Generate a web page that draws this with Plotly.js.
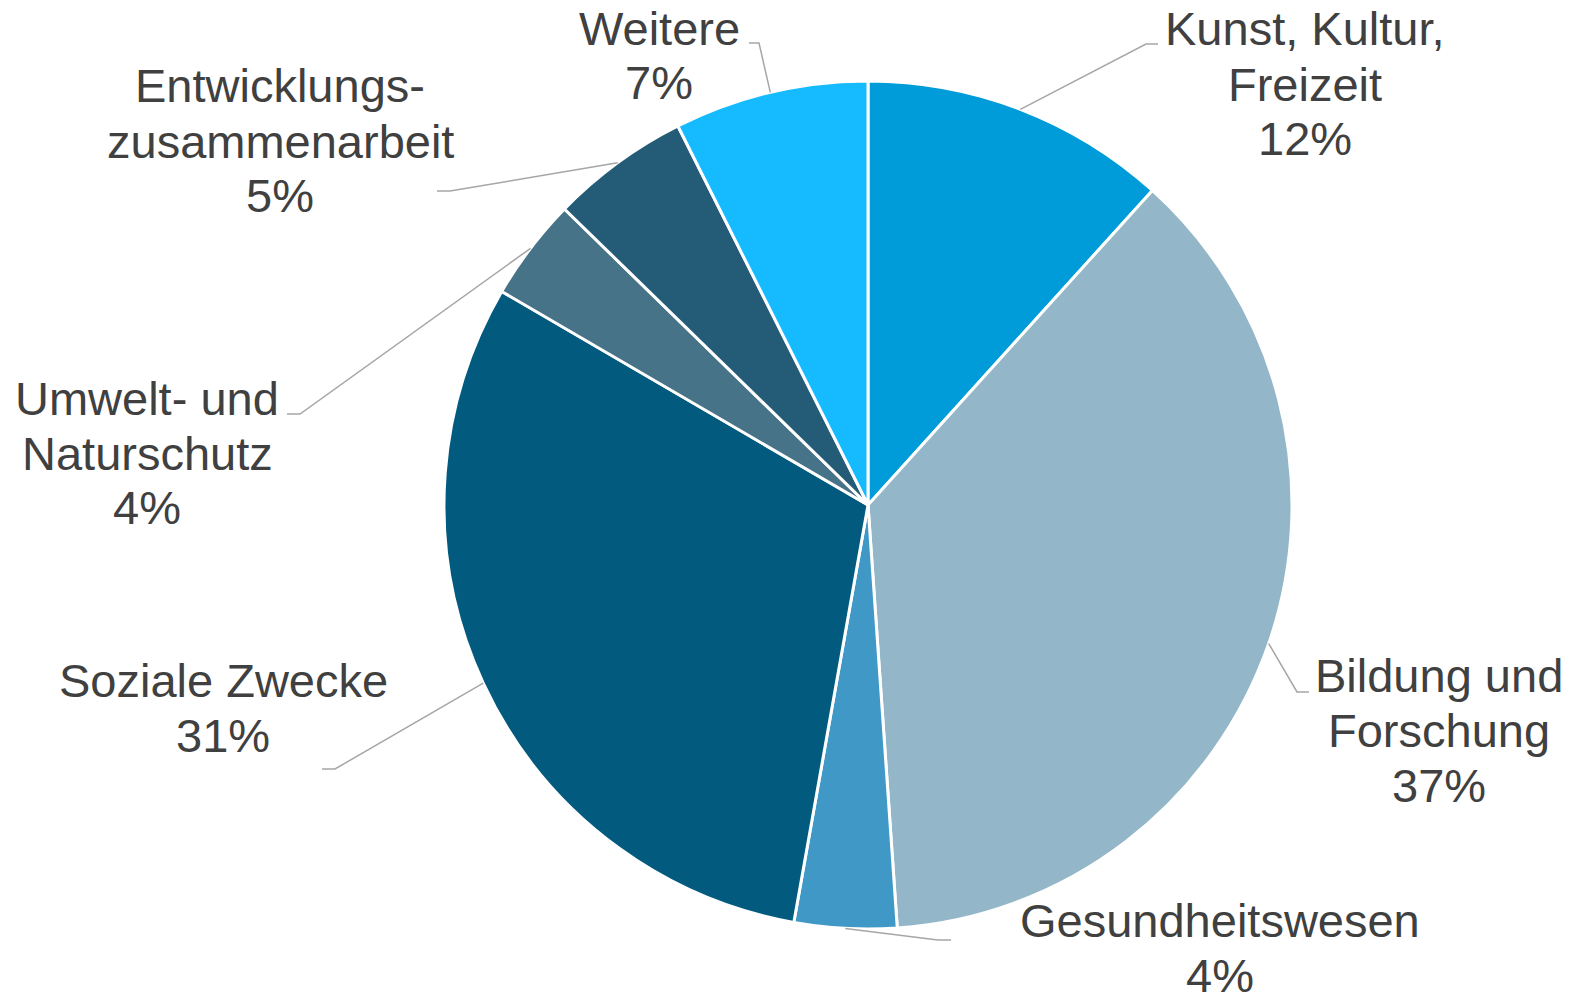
<!DOCTYPE html>
<html><head><meta charset="utf-8">
<script src="https://cdn.plot.ly/plotly-3.0.1.min.js"></script>
<style>html,body{margin:0;padding:0;background:#fff;}#chart{width:1577px;height:997px;}</style>
</head><body><div id="chart"></div>
<script>
// ---- data ----
const categories = ["Kunst, Kultur, Freizeit", "Bildung und Forschung", "Gesundheitswesen", "Soziale Zwecke", "Umwelt- und Naturschutz", "Entwicklungszusammenarbeit", "Weitere"];
const labelLines = [["Kunst, Kultur,", "Freizeit"], ["Bildung und", "Forschung"], ["Gesundheitswesen"], ["Soziale Zwecke"], ["Umwelt- und", "Naturschutz"], ["Entwicklungs-", "zusammenarbeit"], ["Weitere"]];
const shares = [11.7, 37.2, 3.9, 30.6, 3.9, 5.3, 7.4];
const colors = ["#009bd9", "#93b6c8", "#3f98c5", "#025b7e", "#467387", "#245c77", "#16bbff"];

// ---- layout (pixels) ----
const W = 1577, H = 997;
const CX = 868, CY = 505, R = 424;
const LS = 55; // line spacing of labels
const labelLayout = [
  {cx: 1305, y0: 29,  elbow: [1146, 44],  end: 1158},
  {cx: 1439, y0: 675, elbow: [1297, 692], end: 1309},
  {cx: 1220, y0: 920, elbow: [938, 940],  end: 951},
  {cx: 223,  y0: 680, elbow: [335, 769],  end: 322},
  {cx: 147,  y0: 398, elbow: [300, 414],  end: 287},
  {cx: 280,  y0: 86,  elbow: [450, 191],  end: 437},
  {cx: 659,  y0: 28,  elbow: [759, 43],   end: 749}
];

const px = x => x / W;
const py = y => 1 - y / H;

const total = shares.reduce((a, b) => a + b, 0);
const annotations = [];
const shapes = [];
let cum = 0;
shares.forEach((v, i) => {
  const mid = (cum + v / 2) / total * 2 * Math.PI;
  cum += v;
  const sx = CX + R * Math.sin(mid), sy = CY - R * Math.cos(mid);
  const L = labelLayout[i];
  shapes.push({
    type: "path", xref: "paper", yref: "paper",
    path: `M ${px(sx)},${py(sy)} L ${px(L.elbow[0])},${py(L.elbow[1])} L ${px(L.end)},${py(L.elbow[1])}`,
    line: {color: "#a6a6a6", width: 1.5}
  });
  const lines = labelLines[i].concat([Math.round(v / total * 100) + "%"]);
  lines.forEach((t, k) => {
    annotations.push({
      x: px(L.cx), y: py(L.y0 + k * LS), xref: "paper", yref: "paper",
      xanchor: "center", yanchor: "middle", showarrow: false, text: t,
      font: {family: "Liberation Sans, Arial, sans-serif", size: 47, color: "#404040"}
    });
  });
});

const trace = {
  type: "pie",
  labels: categories,
  values: shares,
  sort: false,
  direction: "clockwise",
  rotation: 0,
  textinfo: "none",
  hoverinfo: "label+percent",
  marker: {colors: colors, line: {color: "#ffffff", width: 3}},
  domain: {x: [(CX - R) / W, (CX + R) / W], y: [(H - CY - R) / H, (H - CY + R) / H]},
  showlegend: false
};

const layout = {
  width: W, height: H,
  margin: {l: 0, r: 0, t: 0, b: 0},
  paper_bgcolor: "#ffffff",
  showlegend: false,
  annotations: annotations,
  shapes: shapes
};

Plotly.newPlot("chart", [trace], layout, {displayModeBar: false, staticPlot: true});
</script>
</body></html>
